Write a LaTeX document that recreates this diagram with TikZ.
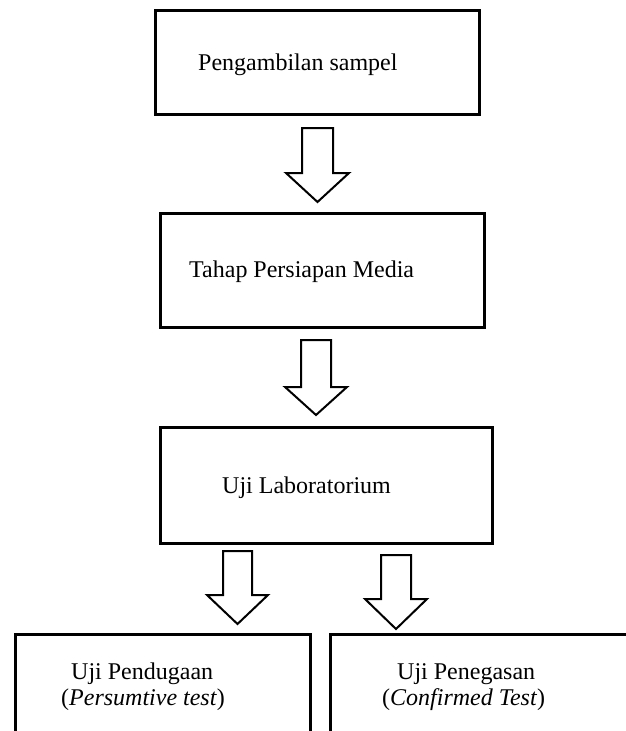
\documentclass[tikz,border=0pt]{standalone}
\usepackage{fontspec}
\setmainfont{Liberation Serif}
\newcommand\blockarr[6]{% center x, top y, head y, tip y, half shaft, half wing
  \draw[barrow] (#1-#5,#2) -- (#1-#5,#3) -- (#1-#6,#3) -- (#1,#4) -- (#1+#6,#3) -- (#1+#5,#3) -- (#1+#5,#2) -- cycle;}
\begin{document}
\begin{tikzpicture}[x=1pt,y=-1pt,
  box/.style={draw, line width=2.6pt, rectangle, inner sep=0pt, anchor=north west},
  lbl/.style={anchor=base west, inner sep=0pt, font=\fontsize{24}{26}\selectfont},
  barrow/.style={draw, line width=2pt, fill=white, line join=miter}]
\useasboundingbox (0,0) rectangle (626,731);
\clip (0,0) rectangle (626,731);
\fill[white] (0,0) rectangle (626,731);
% boxes
\node[box, minimum width=324pt, minimum height=104pt] (b1) at (154,9) {};
\node[box, minimum width=324pt, minimum height=114pt] (b2) at (159,212) {};
\node[box, minimum width=332pt, minimum height=116pt] (b3) at (159,426) {};
\node[box, minimum width=295pt, minimum height=130pt] (b4) at (14,633) {};
\node[box, minimum width=302pt, minimum height=130pt] (b5) at (329,633) {};
% texts
\node[lbl] (t1) at (198,70) {Pengambilan sampel};
\node[lbl] (t2) at (189,277) {Tahap Persiapan Media};
\node[lbl] (t3) at (222,493) {Uji Laboratorium};
\node[lbl] (t4a) at (71,679) {Uji Pendugaan};
\node[lbl] (t4b) at (61,705) {(\textit{Persumtive test})};
\node[lbl] (t5a) at (397,679) {Uji Penegasan};
\node[lbl] (t5b) at (382,705) {(\textit{Confirmed Test})};
% block arrows
\blockarr{317.5}{128}{173}{202}{15.5}{31.5}
\blockarr{316}{340}{387}{415}{15}{31}
\blockarr{237.5}{551}{595}{624}{14.5}{30.5}
\blockarr{396}{555}{599}{629}{15}{31}
\end{tikzpicture}
\end{document}
